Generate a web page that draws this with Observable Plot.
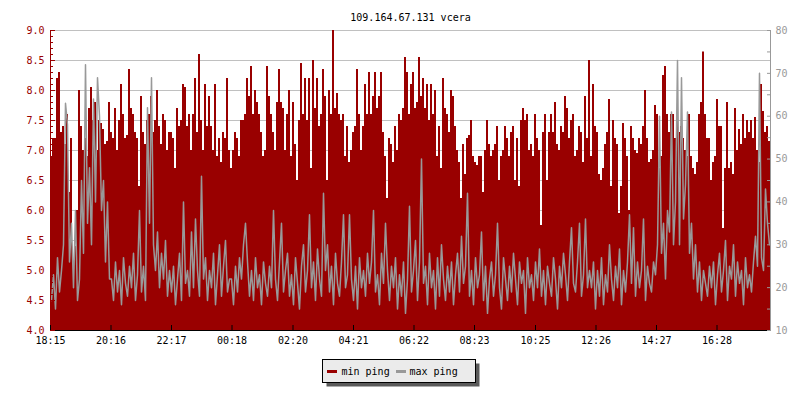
<!DOCTYPE html>
<html>
<head>
<meta charset="utf-8">
<script src="https://cdn.jsdelivr.net/npm/d3@7"></script>
<script src="https://cdn.jsdelivr.net/npm/@observablehq/plot@0.6"></script>
<style>
  body { margin: 0; background: #fff; }
  #wrap { position: relative; width: 800px; height: 400px; }
  #legend { position: absolute; left: 320px; top: 357px; }
</style>
</head>
<body>
<div id="wrap">
  <div id="chart"></div>
  <svg id="legend" width="166" height="34" font-family="'DejaVu Sans Mono', monospace" font-size="10">
    <rect x="6.5" y="6.5" width="153" height="23" fill="#5a5a5a"/>
    <rect x="2.5" y="2.5" width="153" height="23" fill="#ebebeb" stroke="#000" stroke-width="1"/>
    <rect x="7" y="13" width="10" height="3" fill="#990000"/>
    <text x="21.5" y="18" fill="#000">min ping</text>
    <rect x="76" y="13" width="10" height="3" fill="#999999"/>
    <text x="89.5" y="18" fill="#000">max ping</text>
  </svg>
</div>
<script>
const title = "109.164.67.131 vcera";
const startTime = "18:15";
const stepMinutes = 4;
const tickLabels = ["18:15","20:16","22:17","00:18","02:20","04:21","06:22","08:23","10:25","12:26","14:27","16:28"];
const leftTicks = [4.0,4.5,5.0,5.5,6.0,6.5,7.0,7.5,8.0,8.5,9.0];
const rightTicks = [10,20,30,40,50,60,70,80];

// min ping (ms, left axis), one value every 4 minutes
const minPing = [
6.9,7.2,7.2,8.2,8.3,7.3,7.4,7.1,7.6,6.3,
7.2,5.1,5.4,6.0,8.0,7.4,7.0,7.2,6.9,7.7,
8.05,7.5,7.8,7.0,7.5,7.45,7.35,7.1,7.15,7.8,
7.3,7.2,7.7,7.0,7.5,8.1,7.6,7.2,7.25,8.35,
7.7,7.6,7.3,7.2,6.4,7.9,7.3,7.1,7.5,7.6,
7.9,7.3,7.5,8.0,7.4,7.1,7.6,7.5,7.0,7.3,
7.3,7.2,6.7,7.7,7.4,7.5,8.1,8.05,7.4,7.6,
7.0,7.6,8.2,7.3,8.6,7.5,7.0,8.1,7.4,7.9,
7.4,7.0,8.1,6.9,7.2,6.8,7.3,7.2,8.2,7.0,
6.7,7.0,7.3,7.2,6.9,7.5,7.5,7.6,8.2,7.9,
8.4,7.6,8.0,7.8,7.6,7.3,6.9,7.0,8.4,7.9,
7.6,7.3,7.0,7.8,8.35,7.8,7.7,7.0,7.6,8.0,
6.9,7.8,7.1,6.5,7.5,8.45,7.6,8.2,7.5,8.2,
6.7,8.5,7.7,8.2,7.4,7.6,8.35,7.9,6.5,8.0,
7.6,9.0,7.7,7.95,7.6,7.5,7.6,6.9,7.4,6.8,
7.0,7.3,7.4,8.35,7.6,7.0,7.4,8.1,7.6,8.3,
7.6,7.9,8.3,7.7,7.9,8.3,7.3,6.9,6.2,7.2,
7.1,6.8,7.4,7.0,7.6,7.5,7.7,8.55,8.3,7.6,
8.1,8.3,7.7,7.8,8.55,7.9,8.2,7.7,8.1,7.5,
8.1,7.6,8.0,6.9,7.4,6.7,8.2,7.7,7.6,7.3,
8.0,7.9,7.4,7.0,6.8,6.2,7.1,6.6,7.2,7.25,
7.5,6.9,6.8,6.75,6.9,6.9,6.3,7.0,7.5,7.1,
6.9,7.0,7.1,7.4,6.5,6.9,7.0,7.4,7.2,6.9,
7.3,7.4,6.5,7.2,6.4,7.5,7.7,7.5,7.6,7.0,
7.1,6.9,7.6,7.2,7.0,5.75,7.3,7.6,6.5,7.3,
7.6,7.3,7.8,7.1,7.0,7.4,7.3,7.9,7.7,7.2,
7.5,7.6,6.9,7.0,7.4,7.3,6.8,7.9,7.2,8.5,
6.9,8.1,7.4,7.3,6.6,6.5,6.7,7.1,7.3,7.85,
6.4,7.5,7.2,7.1,5.95,6.4,7.45,7.2,6.9,6.0,
7.4,7.2,7.0,6.95,7.2,7.1,7.4,8.0,7.2,6.8,
6.85,7.0,7.75,7.6,6.7,6.9,8.25,8.4,7.6,7.3,
7.6,7.6,7.2,7.5,7.3,7.4,7.2,7.0,6.9,7.6,
6.9,6.7,6.6,6.8,7.6,7.8,8.64,7.6,7.2,7.2,
6.5,6.8,6.9,7.85,7.4,7.4,5.7,6.7,7.8,6.7,
6.8,6.6,7.7,7.0,7.35,7.1,7.6,7.2,7.5,7.3,
7.5,7.2,7.55,7.0,6.8,8.1,7.65,7.3,7.4,7.15
];

// max ping (ms, right axis), one value every 4 minutes
const maxPing = [
17,23,15,27,19,24,30,63,58,26,
35,20,38,17,22,45,28,72,35,48,
30,64,40,69,60,38,45,26,40,22,
22,17,26,19,24,16,27,21,18,25,
20,28,17,23,38,19,25,17,62,35,
69,30,24,33,20,28,22,31,18,24,
19,25,16,22,28,17,40,21,24,18,
33,20,36,24,18,46,22,27,17,24,
20,28,16,23,30,18,25,31,19,22,
22,16,25,19,27,22,30,35,26,18,
24,17,27,20,23,16,26,21,18,25,
20,38,22,17,26,35,19,24,28,18,
23,16,27,21,15,25,30,19,24,37,
20,26,17,29,22,18,42,24,30,19,
25,16,28,21,18,26,37,20,23,37,
22,17,25,15,27,20,24,18,28,21,
26,38,19,23,16,28,21,35,24,17,
25,20,27,15,23,18,26,14,22,39,
19,24,31,17,26,50,21,25,16,28,
20,24,15,27,18,30,22,17,25,19,
26,16,23,28,19,32,21,25,42,18,
24,16,27,20,23,33,17,25,14,22,
26,18,23,35,20,15,27,22,17,25,
19,28,22,16,26,21,24,14,27,20,
23,17,26,20,29,18,24,16,25,21,
18,27,22,15,25,20,28,23,17,26,
34,21,19,26,35,18,23,36,20,24,
20,26,15,24,18,27,16,23,19,30,
22,17,25,20,29,16,24,19,26,37,
21,34,18,26,20,24,36,17,25,21,
19,26,23,30,60,28,35,22,38,33,
61,30,40,73,30,69,36,44,61,28,
35,22,30,19,26,17,24,21,18,25,
20,26,16,23,28,19,24,31,17,25,
22,30,18,26,21,24,16,27,20,23,
19,26,32,25,70,27,24,43,35,30
];

const RED = "#990000", GRAY = "#999999";
const toMinutes = s => { const [h, m] = s.split(":").map(Number); return h * 60 + m; };
const t0 = toMinutes(startTime);
const tickPos = tickLabels.map(s => (toMinutes(s) - t0 + 1440) % 1440);
const span = minPing.length * stepMinutes;
// right axis (10..80) mapped onto the left axis domain (4..9)
const rToL = v => 4 + (v - 10) * 5 / 70;
const lToR = v => Math.round(10 + (v - 4) * 70 / 5);

const rows = minPing.map((v, i) => ({t: i * stepMinutes, min: v, max: rToL(maxPing[i])}));
const areaRows = rows.concat([{t: span, min: minPing[minPing.length - 1]}]);
const lineRows = rows.map(d => ({t: d.t + stepMinutes / 2, max: d.max}));

const leftMinor = d3.range(40, 91).map(d => d / 10);
const rightMinor = d3.range(10, 81, 5).map(rToL);

const chart = Plot.plot({
  width: 800, height: 400,
  marginLeft: 50, marginRight: 30, marginTop: 30, marginBottom: 70,
  x: {domain: [0, span]},
  y: {domain: [4, 9]},
  style: {fontFamily: "'DejaVu Sans Mono', monospace", fontSize: "10px", background: "#fff", color: "#000"},
  marks: [
    Plot.gridY(leftTicks.slice(1), {stroke: "#c0c0c0", strokeOpacity: 1}),
    Plot.areaY(areaRows, {x: "t", y1: 4, y2: "min", curve: "step-after", fill: RED}),
    Plot.line(lineRows, {x: "t", y: "max", curve: "linear", stroke: GRAY, strokeWidth: 1.5}),
    Plot.ruleX([0], {stroke: RED}),
    Plot.ruleX([span], {stroke: GRAY}),
    Plot.ruleY([4], {stroke: "#000"}),
    Plot.axisY(leftMinor, {anchor: "left", tickSize: -3, fill: "none", stroke: RED, label: null}),
    Plot.axisY(leftTicks, {anchor: "left", tickSize: -5, fill: "none", stroke: RED, label: null}),
    Plot.axisY(leftTicks, {anchor: "left", tickSize: 0, tickPadding: 6, tickFormat: d => d.toFixed(1), fill: RED, label: null}),
    Plot.axisY(rightMinor, {anchor: "right", tickSize: -4, fill: "none", stroke: GRAY, label: null}),
    Plot.axisY(rightTicks.map(rToL), {anchor: "right", tickSize: 0, tickPadding: 5, tickFormat: d => String(lToR(d)), fill: GRAY, label: null}),
    Plot.axisX(tickPos, {anchor: "bottom", tickSize: -5, fill: "none", stroke: "#000", label: null}),
    Plot.axisX(tickPos, {anchor: "bottom", tickSize: 0, tickPadding: 6, tickFormat: d => tickLabels[tickPos.indexOf(d)], fill: "#000", label: null}),
    Plot.text([title], {frameAnchor: "top", dy: -17, text: d => d, fill: "#000", fontSize: 10})
  ]
});
document.getElementById("chart").appendChild(chart);
</script>
</body>
</html>
